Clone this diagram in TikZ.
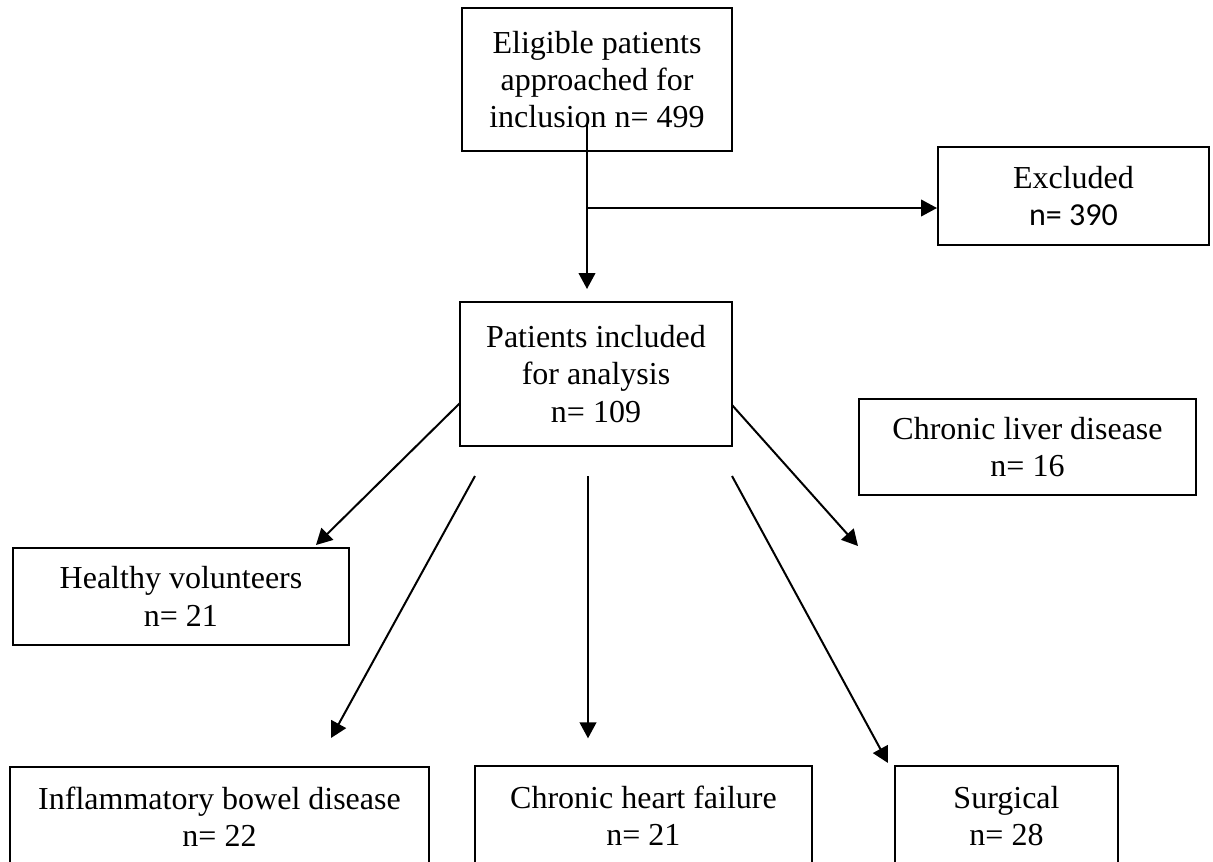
\documentclass[tikz,border=0pt]{standalone}
\usepackage{fontspec}
\setmainfont{Liberation Serif}
\newfontfamily\calfont{Carlito}
\usetikzlibrary{arrows.meta,calc}
\tikzset{every picture/.style={line width=1.5pt}}

\begin{document}
\begin{tikzpicture}[x=0.75pt,y=0.75pt,yscale=-1,xscale=1,
	box/.style={draw,line width=1.5pt,align=center,inner sep=0pt,font=\fontsize{24}{28}\selectfont},
	arr/.style={-{Triangle[length=12pt,width=12.5pt]}}]
	\useasboundingbox (0,0) rectangle (1213,861);

	% Boxes
	\node[box,minimum width=202.5pt,minimum height=107.25pt] (elig) at (597,79.5) {Eligible patients\\approached for\\inclusion n= 499};
	\node[box,minimum width=203.25pt,minimum height=73.5pt] (excl) at (1073.5,196) {Excluded\\{\calfont n= 390}};
	\node[box,minimum width=204pt,minimum height=108pt] (pat) at (596,374) {Patients included\\for analysis\\n= 109};
	\node[box,minimum width=252.75pt,minimum height=72pt] (liver) at (1027.5,447) {Chronic liver disease\\n= 16};
	\node[box,minimum width=252pt,minimum height=72.75pt] (healthy) at (181,596.5) {Healthy volunteers\\n= 21};
	\node[box,minimum width=314.25pt,minimum height=75pt] (ibd) at (219.5,817) {Inflammatory bowel disease\\n= 22};
	\node[box,minimum width=252.75pt,minimum height=75pt] (chf) at (643.5,816) {Chronic heart failure\\n= 21};
	\node[box,minimum width=167.25pt,minimum height=75pt] (surg) at (1006.5,816) {Surgical\\n= 28};

	% Connector ends
	\coordinate (elig-s) at (587,123);
	\coordinate (br) at (587,208);
	\coordinate (pat-l) at (460,403);
	\coordinate (pat-r) at (732,405);
	\coordinate (pat-a) at (475,476);
	\coordinate (pat-b) at (588,476);
	\coordinate (pat-c) at (732,476);
	\coordinate (liver-in) at (858,546);

	% Arrows
	\draw[arr,shorten >=9pt] (elig-s) -- (elig-s |- pat.north);
	\draw[arr] (br) -- (br -| excl.west);
	\draw[arr] (pat-l) -- ($(healthy.north east)+(-34,-2)$);
	\draw[arr] (pat-a) -- ($(ibd.north west)+(322,-28)$);
	\draw[arr,shorten >=20pt] (pat-b) -- (pat-b |- chf.north);
	\draw[arr] (pat-c) -- ($(surg.north west)+(-6,-2)$);
	\draw[arr] (pat-r) -- (liver-in);

\end{tikzpicture}
\end{document}
